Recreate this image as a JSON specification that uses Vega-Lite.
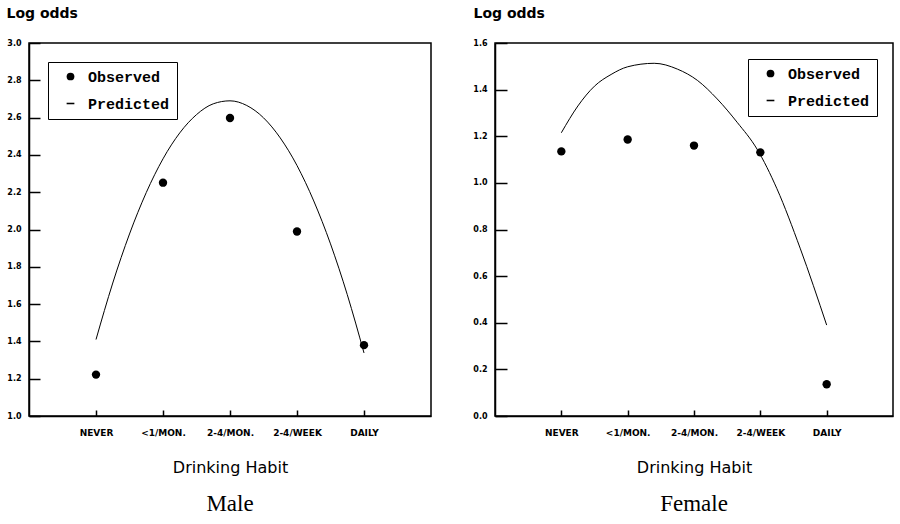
{
  "$schema": "https://vega.github.io/schema/vega-lite/v6.json",
  "background": "white",
  "padding": 5,
  "config": {
    "view": {"stroke": "black", "strokeWidth": 1.5},
    "legend": {
      "strokeColor": "black", "fillColor": "white", "padding": 7, "cornerRadius": 0,
      "labelFont": "Liberation Mono", "labelFontSize": 15, "labelFontWeight": "bold", "labelColor": "black",
      "symbolFillColor": "black", "symbolStrokeColor": "black", "symbolStrokeWidth": 0,
      "symbolSize": 60, "rowPadding": 11, "labelOffset": 10, "symbolOffset": 8
    },
    "title": {"font": "Liberation Serif", "fontSize": 23, "fontWeight": "normal", "color": "black", "orient": "bottom", "offset": 18}
  },
  "datasets": {
    "male_obs": [
      {"habit": 1, "logodds": 1.222, "series": "Observed"},
      {"habit": 2, "logodds": 2.251, "series": "Observed"},
      {"habit": 3, "logodds": 2.598, "series": "Observed"},
      {"habit": 4, "logodds": 1.989, "series": "Observed"},
      {"habit": 5, "logodds": 1.38, "series": "Observed"}
    ],
    "male_pred": [
      {"habit": 1, "logodds": 1.41},
      {"habit": 1.25, "logodds": 1.713},
      {"habit": 1.5, "logodds": 1.976},
      {"habit": 1.75, "logodds": 2.198},
      {"habit": 2, "logodds": 2.379},
      {"habit": 2.25, "logodds": 2.518},
      {"habit": 2.5, "logodds": 2.616},
      {"habit": 2.75, "logodds": 2.674},
      {"habit": 3, "logodds": 2.69},
      {"habit": 3.25, "logodds": 2.665},
      {"habit": 3.5, "logodds": 2.599},
      {"habit": 3.75, "logodds": 2.491},
      {"habit": 4, "logodds": 2.343},
      {"habit": 4.25, "logodds": 2.153},
      {"habit": 4.5, "logodds": 1.923},
      {"habit": 4.75, "logodds": 1.651},
      {"habit": 5, "logodds": 1.338}
    ],
    "female_obs": [
      {"habit": 1, "logodds": 1.135, "series": "Observed"},
      {"habit": 2, "logodds": 1.186, "series": "Observed"},
      {"habit": 3, "logodds": 1.16, "series": "Observed"},
      {"habit": 4, "logodds": 1.131, "series": "Observed"},
      {"habit": 5, "logodds": 0.136, "series": "Observed"}
    ],
    "female_pred": [
      {"habit": 1, "logodds": 1.215},
      {"habit": 1.25, "logodds": 1.33},
      {"habit": 1.5, "logodds": 1.415},
      {"habit": 1.75, "logodds": 1.465},
      {"habit": 2, "logodds": 1.498},
      {"habit": 2.4, "logodds": 1.513},
      {"habit": 2.75, "logodds": 1.488},
      {"habit": 3.05, "logodds": 1.44},
      {"habit": 3.35, "logodds": 1.36},
      {"habit": 3.65, "logodds": 1.26},
      {"habit": 3.95, "logodds": 1.145},
      {"habit": 4.25, "logodds": 0.975},
      {"habit": 4.6, "logodds": 0.72},
      {"habit": 5, "logodds": 0.39}
    ]
  },
  "spacing": 40,
  "resolve": {"scale": {"shape": "independent"}, "legend": {"shape": "independent"}},
  "hconcat": [
    {
      "width": 402, "height": 373,
      "title": {"text": "Male"},
      "encoding": {
        "x": {"field": "habit", "type": "quantitative", "scale": {"domain": [0, 6]},
          "axis": {"values": [1, 2, 3, 4, 5], "labelExpr": "['', 'NEVER', '<1/MON.', '2-4/MON.', '2-4/WEEK', 'DAILY'][datum.value]",
            "gridOpacity": 0, "domainColor": "black", "domainWidth": 1.5, "tickColor": "#000000", "tickWidth": 1.5, "tickSize": -6,
            "labelFont": "DejaVu Sans", "labelFontWeight": "bold", "labelFontSize": 9, "labelColor": "black", "labelPadding": 18, "labelOverlap": false,
            "title": "Drinking Habit", "titleFont": "DejaVu Sans", "titleFontWeight": "normal", "titleFontSize": 16, "titleColor": "black", "titlePadding": 22}},
        "y": {"field": "logodds", "type": "quantitative", "scale": {"domain": [1, 3]},
          "axis": {"values": [1, 1.2, 1.4, 1.6, 1.8, 2, 2.2, 2.4, 2.6, 2.8, 3], "format": ".1f",
            "gridOpacity": 0, "domainColor": "black", "domainWidth": 1.5, "tickColor": "#000000", "tickWidth": 1.5, "tickSize": -11,
            "labelFont": "DejaVu Sans", "labelFontWeight": "bold", "labelFontSize": 8, "labelColor": "black", "labelPadding": 19, "labelOverlap": false,
            "title": "Log odds", "titleFont": "DejaVu Sans", "titleFontSize": 14, "titleFontWeight": "bold", "titleColor": "black", "titleAngle": 0, "titleAlign": "left", "titleBaseline": "middle", "titleX": -23, "titleY": -30}}
      },
      "layer": [
        {
          "data": {"name": "male_pred"},
          "mark": {"type": "line", "color": "black", "strokeWidth": 1, "interpolate": "monotone"}
        },
        {
          "data": {"name": "male_obs"},
          "mark": {"type": "point", "filled": true, "color": "black", "size": 70, "opacity": 1},
          "encoding": {
            "shape": {"field": "series", "type": "nominal",
              "scale": {"domain": ["Observed", "Predicted"], "range": ["circle", "M-1,-0.2H1V0.2H-1Z"]},
              "legend": {"orient": "top-left", "offset": 19, "title": null}}
          }
        }
      ]
    },
    {
      "width": 398, "height": 373,
      "title": {"text": "Female"},
      "encoding": {
        "x": {"field": "habit", "type": "quantitative", "scale": {"domain": [0, 6]},
          "axis": {"values": [1, 2, 3, 4, 5], "labelExpr": "['', 'NEVER', '<1/MON.', '2-4/MON.', '2-4/WEEK', 'DAILY'][datum.value]",
            "gridOpacity": 0, "domainColor": "black", "domainWidth": 1.5, "tickColor": "#000000", "tickWidth": 1.5, "tickSize": -6,
            "labelFont": "DejaVu Sans", "labelFontWeight": "bold", "labelFontSize": 9, "labelColor": "black", "labelPadding": 18, "labelOverlap": false,
            "title": "Drinking Habit", "titleFont": "DejaVu Sans", "titleFontWeight": "normal", "titleFontSize": 16, "titleColor": "black", "titlePadding": 22}},
        "y": {"field": "logodds", "type": "quantitative", "scale": {"domain": [0, 1.6]},
          "axis": {"values": [0, 0.2, 0.4, 0.6, 0.8, 1, 1.2, 1.4, 1.6], "format": ".1f",
            "gridOpacity": 0, "domainColor": "black", "domainWidth": 1.5, "tickColor": "#000000", "tickWidth": 1.5, "tickSize": -12,
            "labelFont": "DejaVu Sans", "labelFontWeight": "bold", "labelFontSize": 8, "labelColor": "black", "labelPadding": 20, "labelOverlap": false,
            "title": "Log odds", "titleFont": "DejaVu Sans", "titleFontSize": 14, "titleFontWeight": "bold", "titleColor": "black", "titleAngle": 0, "titleAlign": "left", "titleBaseline": "middle", "titleX": -22, "titleY": -30}}
      },
      "layer": [
        {
          "data": {"name": "female_pred"},
          "mark": {"type": "line", "color": "black", "strokeWidth": 1, "interpolate": "monotone"}
        },
        {
          "data": {"name": "female_obs"},
          "mark": {"type": "point", "filled": true, "color": "black", "size": 70, "opacity": 1},
          "encoding": {
            "shape": {"field": "series", "type": "nominal",
              "scale": {"domain": ["Observed", "Predicted"], "range": ["circle", "M-1,-0.2H1V0.2H-1Z"]},
              "legend": {"orient": "top-right", "offset": 16, "title": null}}
          }
        }
      ]
    }
  ]
}
